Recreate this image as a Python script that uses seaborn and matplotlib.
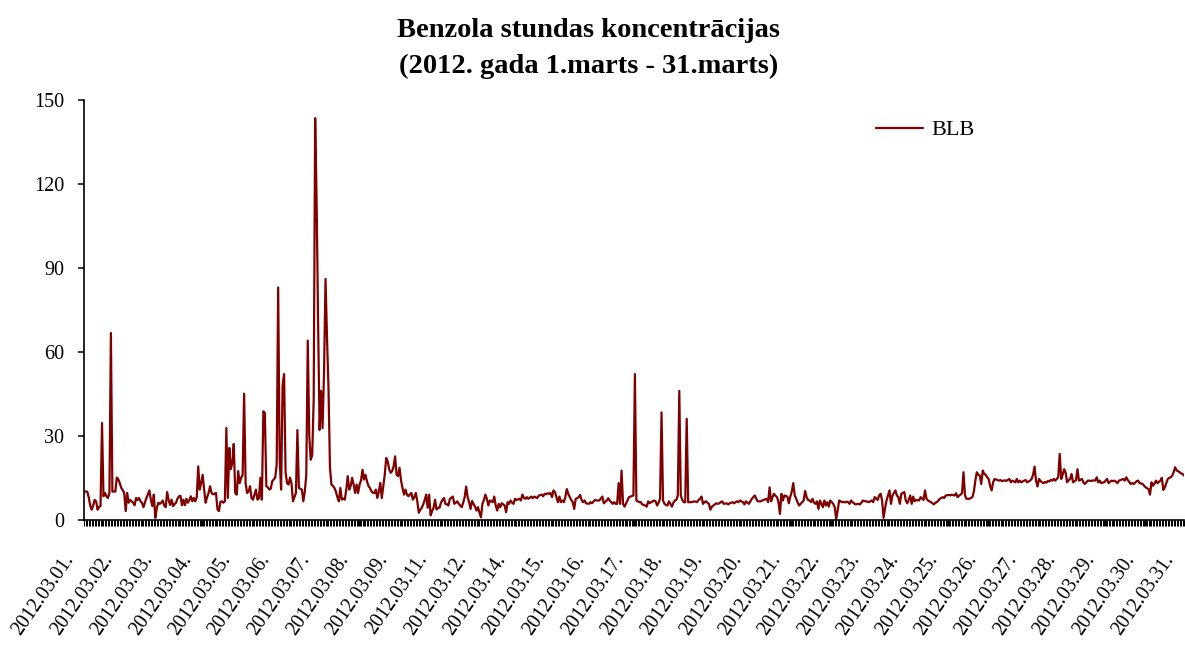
import numpy as np
import pandas as pd
import seaborn as sns
import matplotlib.pyplot as plt
from matplotlib.transforms import ScaledTranslation

# hourly benzene concentrations, station BLB, 1-31 March 2012
blb = [
    10, 10, 10, 8, 5, 3.5, 5, 7, 6.5, 3.5, 4.5, 4.8, 34.5, 8.3, 9.5, 8.3, 7.7, 9.5, 66.7, 10, 10, 10, 15, 14.4,  # 01
    13, 11.3, 10.5, 9.5, 3, 9.5, 6, 7, 6.5, 6, 5.1, 7.7, 7, 7.7, 6.5, 6, 4.4, 6, 7.7, 9, 10.4, 7, 4.8, 8.9,  # 02
    0.6, 4, 6, 5.6, 6, 6.8, 5, 4.4, 9.8, 7, 5.2, 7.1, 4.8, 5.5, 6, 7.5, 8.3, 8.5, 5.1, 7.1, 5.1, 7.4, 6, 7,  # 03
    8.3, 6.5, 7.7, 6.5, 8, 19, 10.7, 13, 16, 10.7, 6, 8, 9.5, 11.9, 9.5, 9, 9.2, 9.5, 3.6, 3, 6.3, 6.5, 6, 6.5,  # 04
    32.7, 7.7, 25.6, 18, 20.2, 27, 9.5, 8.9, 17.3, 13, 14.9, 16, 45, 13, 9.5, 10, 11.9, 7.7, 7.1, 8.9, 10.7, 7.1, 7.5, 14.9,  # 05
    7.1, 38.7, 38, 11.9, 11.5, 10.7, 11, 13.7, 14.3, 15, 19.6, 83, 21.4, 10.7, 48, 52, 17, 13, 12.5, 15, 13, 6.5, 8, 9.5,  # 06
    32, 11.3, 11, 10.7, 6.5, 10, 16, 64, 30, 21.4, 23, 43, 143.5, 113, 70, 32, 46, 32.7, 53, 86, 65, 47, 18.5, 12.5,  # 07
    12, 11.3, 10, 8, 6.5, 11.3, 7.1, 7.5, 7.1, 10.7, 15.5, 10.7, 12, 14.9, 12.5, 9.5, 12.5, 9.5, 12.5, 14, 17.8, 14.3, 16, 13.7,  # 08
    12, 11.3, 10.1, 9.5, 9.5, 10.7, 7.7, 10, 13.1, 7.7, 11.9, 16, 22, 20.8, 18, 16.7, 17.3, 19, 22.6, 16, 15.5, 18.5, 14, 11.3,  # 09
    8.9, 10.7, 8.9, 8.3, 9, 9.5, 7.1, 8, 9.5, 6.5, 2.4, 3.5, 4.2, 5.4, 7, 8.9, 4.2, 8.9, 1.5, 3, 4.2, 7.1, 3.6, 4.2,  # 10
    4.2, 6, 7, 7.7, 5.6, 5.4, 5, 7.4, 7.8, 8.2, 5.6, 6, 6.5, 5.6, 5, 4.4, 6, 8, 11.8, 8, 6.2, 3.8, 6.6, 5.6,  # 11
    4.6, 3.2, 4.4, 2.5, 0.8, 5.6, 7, 8.9, 7.4, 5, 6.8, 6.5, 6.2, 8.2, 5, 3.2, 5.6, 4.4, 5.8, 5.4, 5, 2.6, 6.2, 5.6,  # 12
    6.8, 6, 5.6, 7.4, 7, 7.2, 7.4, 6.8, 8.9, 7.8, 7.4, 8, 7.4, 7.8, 8.2, 7.6, 8.2, 7.9, 7.7, 8.5, 8.7, 8.9, 8.3, 9.2,  # 13
    9, 9.4, 9.2, 9.5, 8, 10.4, 9.8, 8, 6.2, 8.2, 6.2, 6.8, 6.2, 8, 10.9, 9.2, 8, 7, 6.2, 3.8, 7.4, 7.6, 8, 8.8,  # 14
    7, 6.2, 6.8, 5.8, 5.7, 5.6, 6.2, 5.8, 6.4, 7, 6.8, 6.8, 6.8, 7.5, 8.2, 5.8, 6.3, 6.8, 7.6, 6.8, 6.2, 5.6, 6.2, 5.6,  # 15
    5.6, 13, 5.6, 17.5, 5.6, 4.6, 5.7, 6.8, 8, 8.2, 8.4, 8.6, 52, 6.8, 6.5, 6.2, 6.2, 5.4, 5.2, 5, 4.6, 6.5, 5.8, 6.2,  # 16
    6.5, 6.8, 6.5, 5, 6, 7.4, 38.3, 6.8, 5.6, 5.2, 5, 6.5, 5.6, 4.6, 6, 6.8, 7, 8.6, 46, 8.6, 7, 6.2, 6.2, 36,  # 17
    6.2, 6.2, 6.2, 6.3, 6.5, 6.4, 6.2, 7, 7.4, 8.2, 5.6, 6.2, 6.5, 6, 5.6, 3.5, 4.6, 5, 5.4, 5.8, 5.6, 5.8, 6.2, 6.5,  # 18
    5.6, 5.7, 5.8, 5.4, 5.8, 6, 6.2, 5.8, 6.2, 6.5, 6.2, 6.8, 6.5, 6.2, 5.4, 6.5, 6, 5.6, 6.5, 7.4, 8, 8.6, 7.4, 6.5,  # 19
    6.5, 6.5, 6.8, 7, 7.2, 7.4, 6.2, 11.5, 6.5, 8, 9.2, 8.5, 8, 6.2, 2, 9.2, 6.8, 8.6, 8.4, 8.2, 5.8, 8.2, 10, 13,  # 20
    8.6, 7.4, 6, 5, 5.6, 6.2, 6.8, 10.2, 8, 7, 6.8, 6.2, 7.4, 6, 5.6, 6.5, 3.8, 6.8, 5.6, 4.4, 6.8, 5, 6.2, 4.6,  # 21
    6.8, 6.2, 5.6, 4.4, 0.2, 3.2, 6.8, 6.5, 6.2, 6.3, 6.1, 6.4, 6.2, 5.6, 6.8, 6.2, 5.8, 5.4, 5.5, 5.6, 5.4, 6, 6.8, 6.6,  # 22
    6.5, 6.4, 6.2, 6.5, 6.8, 6.2, 8, 7.5, 7, 8.6, 9.2, 6.8, 0.6, 4, 6.8, 8.6, 10.4, 5.6, 8.6, 9.5, 10.4, 8.6, 8, 5.6,  # 23
    9.2, 9.5, 9.8, 6.8, 5.8, 7, 8.6, 5.6, 8.2, 6.5, 7, 6.9, 6.8, 8, 7.5, 7, 10.4, 7.4, 6.8, 6.5, 6.2, 5.8, 5.4, 6,  # 24
    6.2, 6.8, 7.4, 7.7, 8, 7.7, 8.6, 8.7, 8.8, 8.6, 8.9, 8.7, 8.6, 9.4, 8, 8.5, 8.9, 9.4, 16.9, 8.6, 7.4, 7.4, 7.4, 7.7,  # 25
    8, 10, 13.9, 16.9, 16, 15.7, 12.7, 17.5, 16.3, 16, 15.1, 14.5, 12, 10.4, 13.3, 14.5, 14.3, 14.1, 13.9, 14.1, 13.7, 13.9, 14, 13.8,  # 26
    14.2, 14.5, 13.3, 13.9, 13.6, 13.3, 14.5, 13.3, 13.9, 13.3, 13.6, 13.9, 14.1, 13.3, 13.6, 13.9, 14.5, 16, 18.9, 13.9, 11.8, 14.5, 13.8, 13.3,  # 27
    13, 13.4, 13.2, 13.8, 13.6, 14.2, 13.9, 14.5, 13.9, 14.5, 15.1, 23.5, 14.5, 16, 18, 16.8, 13.3, 14, 14.5, 16.3, 13.3, 13.7, 14.1, 18,  # 28
    13.9, 14.2, 14.5, 13.3, 12.7, 13.3, 13.9, 13.9, 13.8, 13.9, 14, 13.9, 15.1, 13.3, 13.9, 13, 13.2, 13.3, 13.9, 14.5, 13, 13.5, 13.9, 13.7,  # 29
    13.9, 13.5, 13, 13.9, 14.1, 14.3, 14.5, 13.9, 15.1, 14.1, 13.4, 12.7, 13, 12.7, 13.2, 13.7, 13.9, 13, 12.9, 12.7, 12.1, 11.5, 11.2, 10.9,  # 30
    8.9, 13.3, 12.1, 12.8, 13.9, 13, 13.5, 13.9, 14.9, 10.6, 11.5, 13, 14.5, 14.9, 15.1, 15.7, 17, 18.7, 17.5, 17.3, 16.9, 16.5, 16.3, 15.7,  # 31
]

day_labels = ['2012.03.01.', '2012.03.02.', '2012.03.03.', '2012.03.04.', '2012.03.05.',
              '2012.03.06.', '2012.03.07.', '2012.03.08.', '2012.03.09.', '2012.03.11.',
              '2012.03.12.', '2012.03.14.', '2012.03.15.', '2012.03.16.', '2012.03.17.',
              '2012.03.18.', '2012.03.19.', '2012.03.20.', '2012.03.21.', '2012.03.22.',
              '2012.03.23.', '2012.03.24.', '2012.03.25.', '2012.03.26.', '2012.03.27.',
              '2012.03.28.', '2012.03.29.', '2012.03.30.', '2012.03.31.']
y_ticks = [0, 30, 60, 90, 120, 150]

df = pd.DataFrame({'hour': np.arange(len(blb)), 'BLB': blb})

sns.set_style('ticks')
plt.rcParams['font.family'] = ['Liberation Serif', 'DejaVu Serif']
plt.rcParams['text.color'] = 'black'
plt.rcParams['xtick.color'] = 'black'
plt.rcParams['ytick.color'] = 'black'

fig = plt.figure(figsize=(11.85, 6.46), dpi=100)
ax = fig.add_axes([0.0711, 0.1958, 0.9281, 0.6494])

sns.lineplot(data=df, x='hour', y='BLB', color='#800000', linewidth=1.6,
             label='BLB', ax=ax)

ax.set_xlim(0, len(blb) - 1)
ax.set_ylim(0, 150)
ax.set_yticks(y_ticks)
ax.set_xlabel('')
ax.set_ylabel('')

# one small tick per hour, labels spread over the month
ax.set_xticks(df['hour'], minor=True)
ax.set_xticks(np.linspace(0, len(blb) - 1, len(day_labels)))
ax.set_xticklabels(day_labels, rotation=55, ha='right', va='center',
                   rotation_mode='anchor', fontsize=14.3)
ax.tick_params(axis='x', which='both', length=4.5, width=0.75, direction='out')
ax.tick_params(axis='x', which='major', pad=22)
ax.tick_params(axis='y', length=4.3, width=1.1, pad=10, labelsize=14.5,
               direction='out')

shift = ScaledTranslation(-10 / 72, 0, fig.dpi_scale_trans)
for lbl in ax.xaxis.get_majorticklabels():
    lbl.set_transform(lbl.get_transform() + shift)

sns.despine(ax=ax)
for side in ['left', 'bottom']:
    ax.spines[side].set_linewidth(1.2)
    ax.spines[side].set_color('black')

ax.legend(loc='center left', bbox_to_anchor=(0.72, 0.928), frameon=False,
          fontsize=16, handlelength=2.1, handletextpad=0.4, borderpad=0,
          borderaxespad=0)

fig.text(0.497, 0.972, 'Benzola stundas koncentrācijas\n(2012. gada 1.marts - 31.marts)',
         ha='center', va='top', fontsize=20.5, fontweight='bold', linespacing=1.55)

fig.savefig('out.png', dpi=100)
